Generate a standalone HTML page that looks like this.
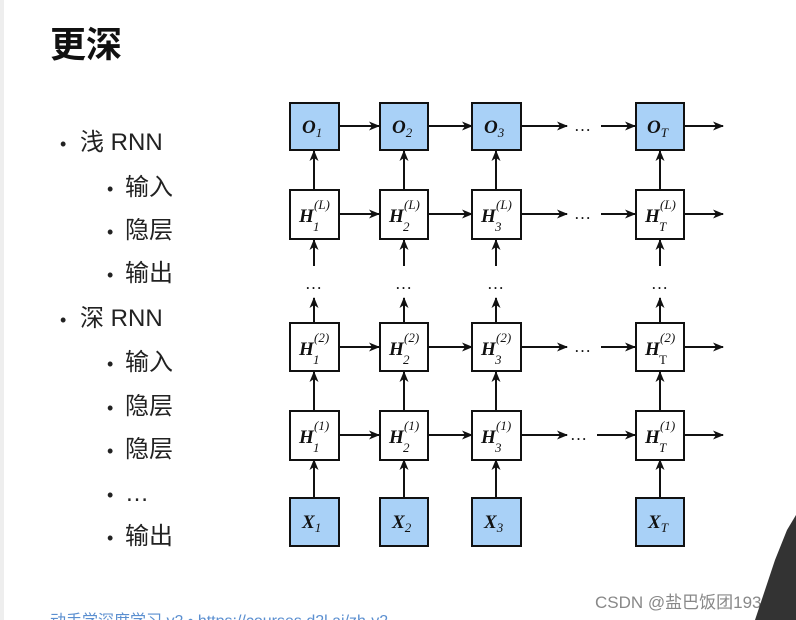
<!DOCTYPE html>
<html><head><meta charset="utf-8"><style>
body{margin:0;width:796px;height:620px;overflow:hidden;background:#fff;}
svg{display:block}
</style></head><body>
<svg width="796" height="620" xmlns="http://www.w3.org/2000/svg">
<defs>
<marker id="a" markerWidth="11" markerHeight="9" refX="10" refY="4.5" orient="auto" markerUnits="userSpaceOnUse"><path d="M0,0 L11,4.5 L0,9 L3,4.5 Z" fill="#111"/></marker>
</defs>
<rect x="0" y="0" width="4" height="620" fill="#eee"/>
<g font-family="'Liberation Sans','Noto Sans CJK SC',sans-serif" fill="#111">
<text x="50" y="57" font-size="36" font-weight="bold">更深</text>
<g font-size="24" fill="#222">
<text x="60" y="150" font-size="18">•</text><text x="80" y="150">浅 RNN</text>
<text x="107" y="195" font-size="18">•</text><text x="125" y="195">输入</text>
<text x="107" y="238" font-size="18">•</text><text x="125" y="238">隐层</text>
<text x="107" y="281" font-size="18">•</text><text x="125" y="281">输出</text>
<text x="60" y="326" font-size="18">•</text><text x="80" y="326">深 RNN</text>
<text x="107" y="370" font-size="18">•</text><text x="125" y="370">输入</text>
<text x="107" y="414" font-size="18">•</text><text x="125" y="414">隐层</text>
<text x="107" y="457" font-size="18">•</text><text x="125" y="457">隐层</text>
<text x="107" y="501" font-size="18">•</text><text x="125" y="501">…</text>
<text x="107" y="544" font-size="18">•</text><text x="125" y="544">输出</text>
</g>
<text x="50" y="626" font-size="16" fill="#5b8fd0">动手学深度学习 v2 • https://courses.d2l.ai/zh-v2</text>
<text x="595" y="608" font-size="17" fill="#888">CSDN @盐巴饭团193</text>
</g>
<polygon points="796,515 787,530 775,560 765,590 755,620 796,620" fill="#333"/>

<g stroke="#111" stroke-width="2" fill="none" marker-end="url(#a)">
<line x1="339" y1="126" x2="379" y2="126"/><line x1="428" y1="126" x2="472" y2="126"/><line x1="521" y1="126" x2="567" y2="126"/><line x1="601" y1="126" x2="635" y2="126"/><line x1="685" y1="126" x2="723" y2="126"/>
<line x1="339" y1="214" x2="379" y2="214"/><line x1="428" y1="214" x2="472" y2="214"/><line x1="521" y1="214" x2="567" y2="214"/><line x1="601" y1="214" x2="635" y2="214"/><line x1="685" y1="214" x2="723" y2="214"/>
<line x1="339" y1="347" x2="379" y2="347"/><line x1="428" y1="347" x2="472" y2="347"/><line x1="521" y1="347" x2="567" y2="347"/><line x1="601" y1="347" x2="635" y2="347"/><line x1="685" y1="347" x2="723" y2="347"/>
<line x1="339" y1="435" x2="379" y2="435"/><line x1="428" y1="435" x2="472" y2="435"/><line x1="521" y1="435" x2="567" y2="435"/><line x1="597" y1="435" x2="635" y2="435"/><line x1="685" y1="435" x2="723" y2="435"/>
<line x1="314" y1="190" x2="314" y2="151"/><line x1="404" y1="190" x2="404" y2="151"/><line x1="496" y1="190" x2="496" y2="151"/><line x1="660" y1="190" x2="660" y2="151"/>
<line x1="314" y1="266" x2="314" y2="240"/><line x1="404" y1="266" x2="404" y2="240"/><line x1="496" y1="266" x2="496" y2="240"/><line x1="660" y1="266" x2="660" y2="240"/>
<line x1="314" y1="323" x2="314" y2="298"/><line x1="404" y1="323" x2="404" y2="298"/><line x1="496" y1="323" x2="496" y2="298"/><line x1="660" y1="323" x2="660" y2="298"/>
<line x1="314" y1="411" x2="314" y2="372"/><line x1="404" y1="411" x2="404" y2="372"/><line x1="496" y1="411" x2="496" y2="372"/><line x1="660" y1="411" x2="660" y2="372"/>
<line x1="314" y1="498" x2="314" y2="460"/><line x1="404" y1="498" x2="404" y2="460"/><line x1="496" y1="498" x2="496" y2="460"/><line x1="660" y1="498" x2="660" y2="460"/>
</g>

<g stroke="#111" stroke-width="2">
<g fill="#a9d1f7">
<rect x="290" y="103" width="49" height="47"/><rect x="380" y="103" width="48" height="47"/><rect x="472" y="103" width="49" height="47"/><rect x="636" y="103" width="48" height="47"/>
<rect x="290" y="498" width="49" height="48"/><rect x="380" y="498" width="48" height="48"/><rect x="472" y="498" width="49" height="48"/><rect x="636" y="498" width="48" height="48"/>
</g>
<g fill="#fff">
<rect x="290" y="190" width="49" height="49"/><rect x="380" y="190" width="48" height="49"/><rect x="472" y="190" width="49" height="49"/><rect x="636" y="190" width="48" height="49"/>
<rect x="290" y="323" width="49" height="48"/><rect x="380" y="323" width="48" height="48"/><rect x="472" y="323" width="49" height="48"/><rect x="636" y="323" width="48" height="48"/>
<rect x="290" y="411" width="49" height="49"/><rect x="380" y="411" width="48" height="49"/><rect x="472" y="411" width="49" height="49"/><rect x="636" y="411" width="48" height="49"/>
</g>
</g>

<g font-family="'Liberation Serif',serif" fill="#111" font-style="italic">
<g font-size="17" font-style="normal">
<text x="574" y="131">…</text><text x="574" y="219">…</text><text x="574" y="352">…</text><text x="570" y="440">…</text>
<text x="305" y="289">…</text><text x="395" y="289">…</text><text x="487" y="289">…</text><text x="651" y="289">…</text>
</g>
<text x="302" y="133" font-size="19" font-weight="bold">O<tspan font-size="13" font-weight="normal" dy="4">1</tspan></text>
<text x="392" y="133" font-size="19" font-weight="bold">O<tspan font-size="13" font-weight="normal" dy="4">2</tspan></text>
<text x="484" y="133" font-size="19" font-weight="bold">O<tspan font-size="13" font-weight="normal" dy="4">3</tspan></text>
<text x="647" y="133" font-size="19" font-weight="bold">O<tspan font-size="13" font-weight="normal" dy="4">T</tspan></text>
<text x="302" y="528" font-size="19" font-weight="bold">X<tspan font-size="13" font-weight="normal" dy="4">1</tspan></text>
<text x="392" y="528" font-size="19" font-weight="bold">X<tspan font-size="13" font-weight="normal" dy="4">2</tspan></text>
<text x="484" y="528" font-size="19" font-weight="bold">X<tspan font-size="13" font-weight="normal" dy="4">3</tspan></text>
<text x="648" y="528" font-size="19" font-weight="bold">X<tspan font-size="13" font-weight="normal" dy="4">T</tspan></text>
<g font-size="19" font-weight="bold">
<text x="299" y="222">H</text><text x="389" y="222">H</text><text x="481" y="222">H</text><text x="645" y="222">H</text>
<text x="299" y="355">H</text><text x="389" y="355">H</text><text x="481" y="355">H</text><text x="645" y="355">H</text>
<text x="299" y="443">H</text><text x="389" y="443">H</text><text x="481" y="443">H</text><text x="645" y="443">H</text>
</g>
<g font-size="13">
<text x="314" y="209">(L)</text><text x="404" y="209">(L)</text><text x="496" y="209">(L)</text><text x="660" y="209">(L)</text>
<text x="314" y="342">(2)</text><text x="404" y="342">(2)</text><text x="496" y="342">(2)</text><text x="660" y="342">(2)</text>
<text x="314" y="430">(1)</text><text x="404" y="430">(1)</text><text x="496" y="430">(1)</text><text x="660" y="430">(1)</text>
<text x="313" y="231">1</text><text x="403" y="231">2</text><text x="495" y="231">3</text><text x="659" y="231">T</text>
<text x="313" y="364">1</text><text x="403" y="364">2</text><text x="495" y="364">3</text><text x="659" y="364" font-style="normal">T</text>
<text x="313" y="452">1</text><text x="403" y="452">2</text><text x="495" y="452">3</text><text x="659" y="452">T</text>
</g>
</g>
</svg>
</body></html>
